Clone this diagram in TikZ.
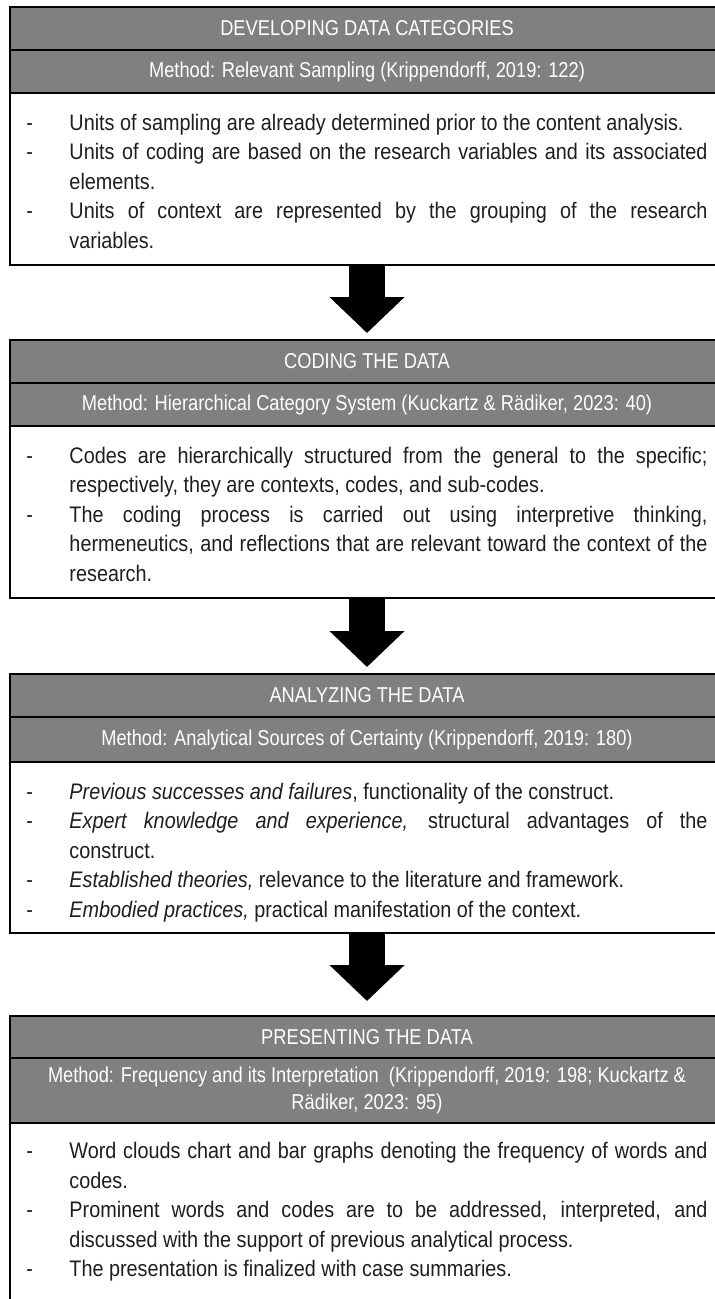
\documentclass[tikz,border=0pt]{standalone}
\usepackage{fontspec}
\setmainfont{Liberation Sans}[FakeStretch=0.88]
\newfontfamily\bandfont{Liberation Sans}[FakeStretch=0.85]
\usetikzlibrary{positioning}
\usetikzlibrary{arrows.meta}

\definecolor{bandgray}{RGB}{128,128,128}
\definecolor{inkgray}{RGB}{30,30,30}

% one dash item with a hanging indent
\newcommand{\dashpoint}{\par\hangindent=43pt\hangafter=1\noindent\makebox[43pt][l]{-}}

\tikzset{
	stageband/.style = {draw, line width=1.6pt, fill=bandgray, text=white, outer sep=0pt,
		minimum width=714pt, minimum height=43pt, inner sep=0pt, align=center,
		font=\bandfont\fontsize{21.5}{27}\selectfont},
	stagehead/.style = {stageband},
	stagebody/.style = {draw, line width=1.6pt, outer sep=0pt, text=inkgray,
		minimum width=714pt, minimum height=172pt, text width=681pt,
		inner xsep=16.5pt, inner ysep=0pt, align=justify,
		font=\fontsize{22.5}{29.5}\selectfont,
		execute at begin node={\vspace*{#1}}},
	stagebody/.default = -9pt,
	stageflow/.style = {line width=36pt, -{Triangle[width=73pt,length=36pt]}, shorten >=7pt}
}

\begin{document}
\begin{tikzpicture}
	\useasboundingbox (0,0) rectangle (715pt,-1299pt);
	\clip (0,0) rectangle (715pt,-1299pt);

	% developing data categories
	\node[stagehead, anchor=north west] (head1) at (10pt,-7pt) {DEVELOPING DATA CATEGORIES};
	\node[stageband, below=0pt of head1] (meth1) {Method: Relevant Sampling (Krippendorff, 2019: 122)};
	\node[stagebody, below=0pt of meth1] (body1) {%
		\dashpoint Units of sampling are already determined prior to the content analysis.
		\dashpoint Units of coding are based on the research variables and its associated\linebreak elements.
		\dashpoint Units of context are represented by the grouping of the research\linebreak variables.\par};

	% coding the data
	\node[stagehead, below=75pt of body1] (head2) {CODING THE DATA};
	\node[stageband, below=0pt of head2] (meth2) {Method: Hierarchical Category System (Kuckartz \& Rädiker, 2023: 40)};
	\node[stagebody, below=0pt of meth2] (body2) {%
		\dashpoint Codes are hierarchically structured from the general to the specific;\linebreak respectively, they are contexts, codes, and sub-codes.
		\dashpoint The coding process is carried out using interpretive thinking,\linebreak hermeneutics, and reflections that are relevant toward the context of the\linebreak research.\par};

	% analyzing the data
	\node[stagehead, below=76pt of body2] (head3) {ANALYZING THE DATA};
	\node[stageband, below=0pt of head3, minimum height=45pt] (meth3) {Method: Analytical Sources of Certainty (Krippendorff, 2019: 180)};
	\node[stagebody=-3pt, below=0pt of meth3, minimum height=171pt] (body3) {%
		\dashpoint \textit{Previous successes and failures}, functionality of the construct.
		\dashpoint \textit{Expert knowledge and experience,} structural advantages of the\linebreak construct.
		\dashpoint \textit{Established theories,} relevance to the literature and framework.
		\dashpoint \textit{Embodied practices,} practical manifestation of the context.\par};

	% presenting the data
	\node[stagehead, below=83pt of body3, minimum height=42pt] (head4) {PRESENTING THE DATA};
	\node[stageband, below=0pt of head4, minimum height=65pt] (meth4) {Method: Frequency and its Interpretation\ \ (Krippendorff, 2019: 198; Kuckartz \&\\ Rädiker, 2023: 95)};
	\node[stagebody=-3pt, below=0pt of meth4, minimum height=192pt] (body4) {%
		\dashpoint Word clouds chart and bar graphs denoting the frequency of words and\linebreak codes.
		\dashpoint Prominent words and codes are to be addressed, interpreted, and\linebreak discussed with the support of previous analytical process.
		\dashpoint The presentation is finalized with case summaries.
		\par\mbox{}\par};

	\draw[stageflow] (body1) -- (head2);
	\draw[stageflow] (body2) -- (head3);
	\draw[stageflow, shorten >=15pt] (body3) -- (head4);
\end{tikzpicture}
\end{document}
